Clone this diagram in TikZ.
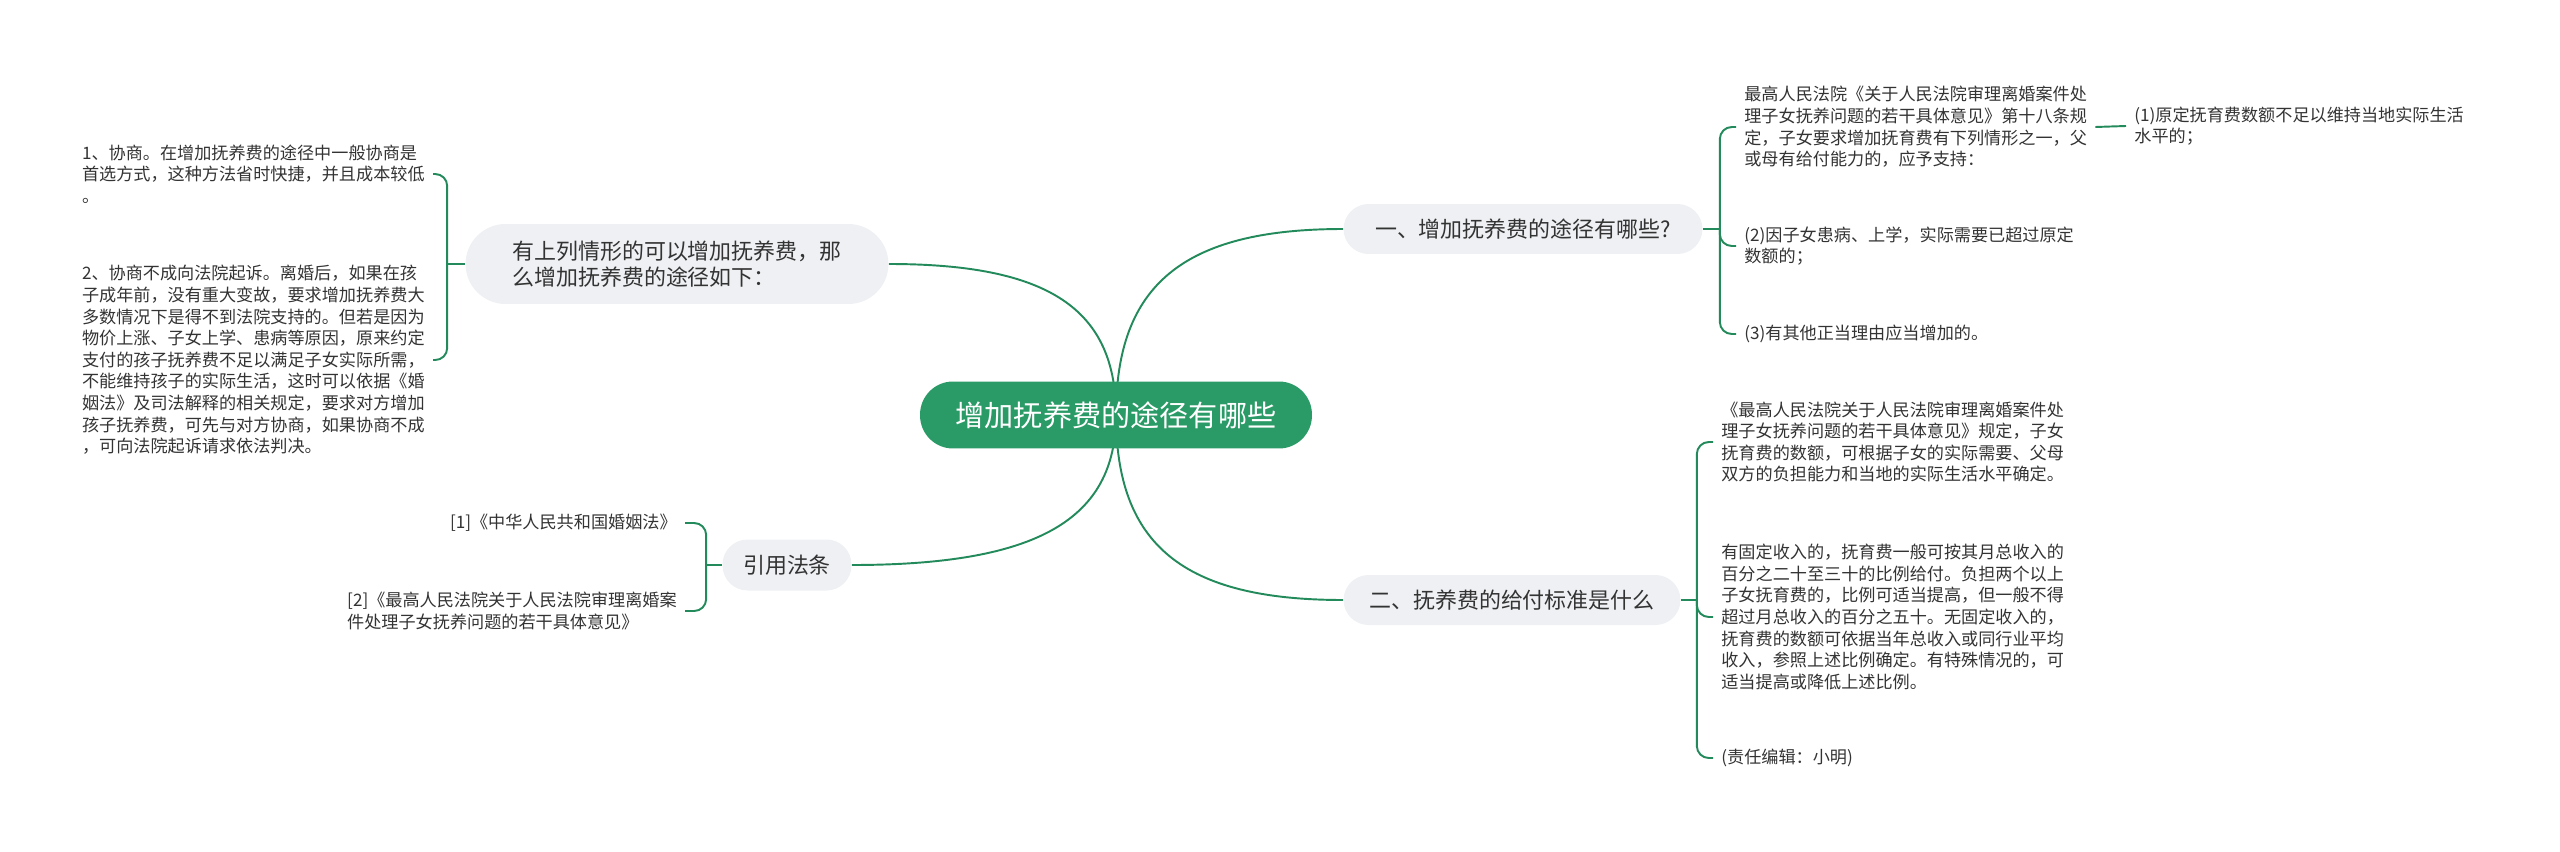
\documentclass[tikz,border=0pt]{standalone}
\usepackage{fontspec}
\setmainfont{Noto Sans CJK SC}
\usetikzlibrary{backgrounds}

\definecolor{mapgreen}{HTML}{2A9A66}
\definecolor{linegreen}{HTML}{238A5B}
\definecolor{topicgray}{HTML}{EEF0F3}
\definecolor{inktext}{HTML}{333333}

\newcommand{\leaffont}{\fontsize{9.75pt}{12.3pt}\selectfont}
\newcommand{\topicfont}{\fontsize{12.5pt}{15.1pt}\selectfont}

\begin{document}
\begin{tikzpicture}[x=0.02cm,y=-0.02cm,
    root/.style={rectangle,rounded corners=0.66cm,fill=mapgreen,text=white,
        minimum width=7.84cm,minimum height=1.34cm,font=\fontsize{16.6pt}{20pt}\selectfont},
    topic/.style={rectangle,rounded corners=0.5cm,fill=topicgray,text=inktext,
        minimum height=1cm,font=\topicfont,align=left},
    leaf/.style={inner xsep=0.16cm,inner ysep=0.05cm,text=inktext,font=\leaffont,align=left},
    link/.style={draw=linegreen,line width=1.1pt},
    brace/.style={link,rounded corners=0.24cm}]
    \useasboundingbox (0,0) rectangle (2560,852);

    \node[root] (root) at (1116,415) {增加抚养费的途径有哪些};

    \node[topic,minimum width=7.18cm] (wayQ) at (1523,229) {一、增加抚养费的途径有哪些?};
    \node[topic,minimum width=6.74cm] (stdQ) at (1512,600) {二、抚养费的给付标准是什么};
    \node[topic,minimum width=8.46cm,minimum height=1.6cm,rounded corners=0.8cm] (cases) at (677,264)
        {有上列情形的可以增加抚养费，那\\么增加抚养费的途径如下：};
    \node[topic,minimum width=2.58cm,minimum height=1.02cm] (laws) at (787,565) {引用法条};

    % left side
    \node[leaf,anchor=east] (caseA) at (433,174) {1、协商。在增加抚养费的途径中一般协商是\\
        首选方式，这种方法省时快捷，并且成本较低\\。};
    \node[leaf,anchor=east] (caseB) at (433,360) {2、协商不成向法院起诉。离婚后，如果在孩\\
        子成年前，没有重大变故，要求增加抚养费大\\
        多数情况下是得不到法院支持的。但若是因为\\
        物价上涨、子女上学、患病等原因，原来约定\\
        支付的孩子抚养费不足以满足子女实际所需，\\
        不能维持孩子的实际生活，这时可以依据《婚\\
        姻法》及司法解释的相关规定，要求对方增加\\
        孩子抚养费，可先与对方协商，如果协商不成\\
        ，可向法院起诉请求依法判决。};
    \node[leaf,anchor=east] (lawA) at (685,523) {[1]《中华人民共和国婚姻法》};
    \node[leaf,anchor=east] (lawB) at (685,611) {[2]《最高人民法院关于人民法院审理离婚案\\
        件处理子女抚养问题的若干具体意见》};

    % right side
    \node[leaf,anchor=west] (wayA) at (1736,127) {最高人民法院《关于人民法院审理离婚案件处\\
        理子女抚养问题的若干具体意见》第十八条规\\
        定，子女要求增加抚育费有下列情形之一，父\\
        或母有给付能力的，应予支持：};
    \node[leaf,anchor=west] (wayA1) at (2126,126) {(1)原定抚育费数额不足以维持当地实际生活\\水平的；};
    \node[leaf,anchor=west] (wayB) at (1736,246) {(2)因子女患病、上学，实际需要已超过原定\\数额的；};
    \node[leaf,anchor=west] (wayC) at (1736,334) {(3)有其他正当理由应当增加的。};

    \node[leaf,anchor=west] (stdA) at (1713,442) {《最高人民法院关于人民法院审理离婚案件处\\
        理子女抚养问题的若干具体意见》规定，子女\\
        抚育费的数额，可根据子女的实际需要、父母\\
        双方的负担能力和当地的实际生活水平确定。};
    \node[leaf,anchor=west] (stdB) at (1713,617) {有固定收入的，抚育费一般可按其月总收入的\\
        百分之二十至三十的比例给付。负担两个以上\\
        子女抚育费的，比例可适当提高，但一般不得\\
        超过月总收入的百分之五十。无固定收入的，\\
        抚育费的数额可依据当年总收入或同行业平均\\
        收入，参照上述比例确定。有特殊情况的，可\\
        适当提高或降低上述比例。};
    \node[leaf,anchor=west] (stdC) at (1713,758) {(责任编辑：小明)};

    \begin{pgfonlayer}{background}
        \draw[link] (root.center) .. controls +(0,-130) and +(-160,0) .. (wayQ.west);
        \draw[link] (root.center) .. controls +(0,130) and +(-160,0) .. (stdQ.west);
        \draw[link] (root.center) .. controls +(0,-106) and +(160,0) .. (cases.east);
        \draw[link] (root.center) .. controls +(0,105) and +(185,0) .. (laws.east);
    \end{pgfonlayer}

    \draw[link] (cases.west) -- ++(-18,0) coordinate (casesJ);
    \draw[brace] (casesJ) |- (caseA.east);
    \draw[brace] (casesJ) |- (caseB.east);

    \draw[link] (laws.west) -- ++(-16,0) coordinate (lawsJ);
    \draw[brace] (lawsJ) |- (lawA.east);
    \draw[brace] (lawsJ) |- (lawB.east);

    \draw[link] (wayQ.east) -- ++(17,0) coordinate (wayJ);
    \draw[brace] (wayJ) |- (wayA.west);
    \draw[brace] (wayJ) |- (wayB.west);
    \draw[brace] (wayJ) |- (wayC.west);
    \draw[link] (wayA.east) -- (wayA1.west);

    \draw[link] (stdQ.east) -- ++(16,0) coordinate (stdJ);
    \draw[brace] (stdJ) |- (stdA.west);
    \draw[brace] (stdJ) |- (stdB.west);
    \draw[brace] (stdJ) |- (stdC.west);
\end{tikzpicture}
\end{document}
